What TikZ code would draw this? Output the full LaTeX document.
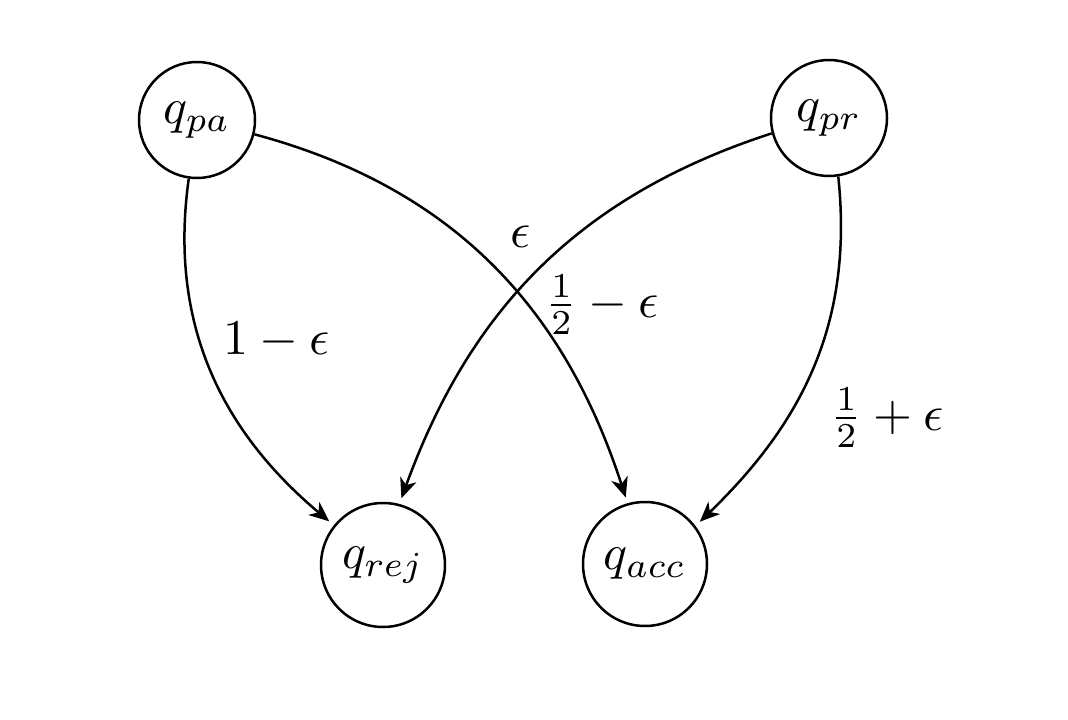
\documentclass[tikz,border=0pt]{standalone}
\usetikzlibrary{arrows.meta}
\begin{document}
\begin{tikzpicture}[x=0.2pt,y=-0.2pt,
  state/.style={draw,circle,line width=0.5pt,inner sep=0pt},
  small/.style={minimum size=23.2pt},
  big/.style={minimum size=24.8pt},
  edgeline/.style={line width=0.5pt,-{Stealth[length=4pt,width=3.4pt,inset=1.2pt]},shorten >=1.2pt},
  lbl/.style={inner sep=0pt}]
\useasboundingbox (0,0) rectangle (1068,720);
\node[state,small] (pa) at (197,120) {$q_{pa}$};
\node[state,small] (pr) at (829,118) {$q_{pr}$};
\node[state,big] (rej) at (383,565) {$q_{rej}$};
\node[state,big] (acc) at (645,564) {$q_{acc}$};
\draw[edgeline] (pa.-98) to[out=-98,in=140,looseness=1.0] (rej.141);
\draw[edgeline] (pa.-14) to[out=-15,in=108,looseness=1.0] (acc.106);
\draw[edgeline] (pr.195) to[out=198,in=70,looseness=1.0] (rej.75);
\draw[edgeline] (pr.-81) to[out=-84,in=44,looseness=1.0] (acc.37);
\node[lbl] (l1) at (277,340) {$1-\epsilon$};
\node[lbl] (l2) at (521,237) {$\epsilon$};
\node[lbl] (l3) at (602,305) {$\frac{1}{2}-\epsilon$};
\node[lbl] (l4) at (887,418) {$\frac{1}{2}+\epsilon$};
\end{tikzpicture}
\end{document}
